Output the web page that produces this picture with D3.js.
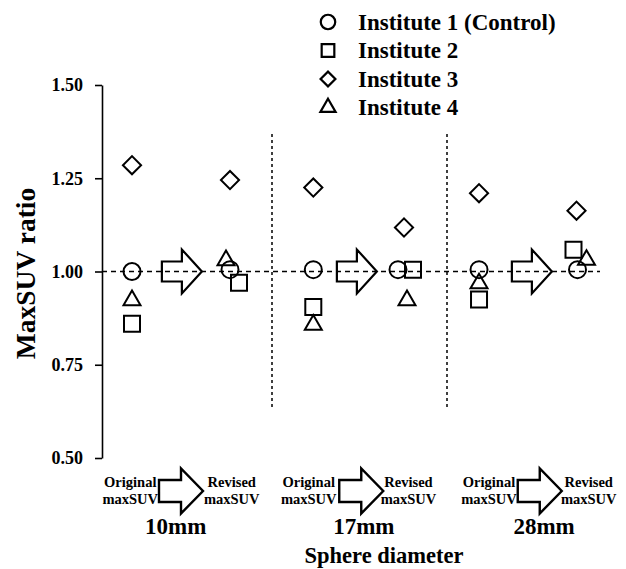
<!DOCTYPE html>
<html>
<head>
<meta charset="utf-8">
<script src="https://cdn.jsdelivr.net/npm/d3@7"></script>
<style>
  html, body { margin: 0; padding: 0; background: #fff; }
  svg { display: block; }
  text { font-family: "Liberation Serif", "Times New Roman", serif; font-weight: bold; fill: #000; }
</style>
</head>
<body>
<svg id="chart" width="626" height="569"></svg>
<script>
// Sphere sizes measured, and the institutes compared
const diameters = ["10mm", "17mm", "28mm"];
const institutes = ["Institute 1 (Control)", "Institute 2", "Institute 3", "Institute 4"];
const yTicks = [0.50, 0.75, 1.00, 1.25, 1.50];

// MaxSUV ratio per sphere diameter (10, 17, 28 mm) — original calculation
const originalInst1 = [1.000, 1.005, 1.005];
const originalInst2 = [0.860, 0.905, 0.925];
const originalInst3 = [1.285, 1.225, 1.210];
const originalInst4 = [0.923, 0.857, 0.968];

// MaxSUV ratio per sphere diameter — revised calculation
const revisedInst1 = [1.005, 1.005, 1.005];
const revisedInst2 = [0.970, 1.005, 1.058];
const revisedInst3 = [1.245, 1.118, 1.163];
const revisedInst4 = [1.030, 0.923, 1.031];

const originalSeries = [originalInst1, originalInst2, originalInst3, originalInst4];
const revisedSeries = [revisedInst1, revisedInst2, revisedInst3, revisedInst4];

// ---- layout ----
const svg = d3.select("#chart");
const x = d3.scaleLinear().domain([0, 3]).range([97, 622]);
const y = d3.scaleLinear().domain([0.5, 1.5]).range([458, 85]);
const axisX = 102;

// position of the original / revised columns inside each diameter group
const colPos = [[0.20, 0.76], [0.236, 0.76], [0.183, 0.74]];
// small sideways offsets so overlapping symbols stay visible (px)
const reviseNudge = [
  [0, 9, 0, -4],
  [-7, 8, -1, 2],
  [1, -3, 0, 10]
];
const symbolTypes = [d3.symbolCircle, d3.symbolSquare, d3.symbolSquare, d3.symbolTriangle];
const symbolRot = [0, 0, 45, 0];
const symbolSize = [227, 256, 165, 125];
const legendSize = [165, 160, 110, 100];

// group separators (dotted verticals)
svg.append("g").selectAll("line").data([1, 2]).join("line")
  .attr("x1", d => x(d)).attr("x2", d => x(d))
  .attr("y1", 134).attr("y2", 408)
  .attr("stroke", "#000").attr("stroke-width", 1.5)
  .attr("stroke-dasharray", "3,3");

// reference line at ratio 1.00
svg.append("line")
  .attr("x1", axisX).attr("x2", 600)
  .attr("y1", y(1)).attr("y2", y(1))
  .attr("stroke", "#000").attr("stroke-width", 1.6)
  .attr("stroke-dasharray", "5,4");

// y axis
const yAxis = d3.axisLeft(y).tickValues(yTicks).tickFormat(d3.format(".2f"))
  .tickSize(7).tickSizeOuter(0).tickPadding(12);
const gy = svg.append("g").attr("transform", `translate(${axisX},0)`).call(yAxis);
gy.select(".domain").attr("stroke", "#000").attr("stroke-width", 1.6);
gy.selectAll(".tick line").attr("stroke", "#000").attr("stroke-width", 1.6);
gy.selectAll(".tick text")
  .attr("font-family", "Liberation Serif, Times New Roman, serif")
  .attr("font-weight", "bold").attr("font-size", 18).attr("fill", "#000");

svg.append("text")
  .attr("transform", `translate(35,${(y(0.5) + y(1.5)) / 2 + 2}) rotate(-90)`)
  .attr("text-anchor", "middle")
  .attr("font-size", 27.5)
  .text("MaxSUV ratio");

// hollow block arrow, centred at (cx, cy)
function arrowPath(cx, cy, len, shaftH, headH, shaftLen) {
  const x0 = cx - len / 2, xh = x0 + shaftLen, x1 = cx + len / 2;
  const pts = [
    [x0, cy - shaftH / 2], [xh, cy - shaftH / 2], [xh, cy - headH / 2],
    [x1, cy], [xh, cy + headH / 2], [xh, cy + shaftH / 2], [x0, cy + shaftH / 2]
  ];
  return d3.line()(pts) + "Z";
}

// arrows between original and revised columns
svg.append("g").selectAll("path").data(diameters).join("path")
  .attr("d", (d, i) => arrowPath(x(i + 0.485), y(1), 40, 20, 44, 20))
  .attr("fill", "none").attr("stroke", "#000").attr("stroke-width", 2.2)
  .attr("stroke-linejoin", "miter");

// data symbols
function drawSeries(series, col, nudges) {
  series.forEach((vals, s) => {
    const sym = d3.symbol().type(symbolTypes[s]).size(symbolSize[s]);
    svg.append("g").selectAll("path").data(vals).join("path")
      .attr("transform", (v, g) => {
        const px = x(g + colPos[g][col]) + (nudges ? nudges[g][s] : 0);
        return `translate(${px},${y(v)}) rotate(${symbolRot[s]})`;
      })
      .attr("d", sym)
      .attr("fill", "none").attr("stroke", "#000").attr("stroke-width", 2);
  });
}
drawSeries(originalSeries, 0, null);
drawSeries(revisedSeries, 1, reviseNudge);

// legend
const legend = svg.append("g");
institutes.forEach((name, s) => {
  const ly = 22 + s * 28.5;
  legend.append("path")
    .attr("transform", `translate(328,${ly}) rotate(${symbolRot[s]})`)
    .attr("d", d3.symbol().type(symbolTypes[s]).size(legendSize[s]))
    .attr("fill", "none").attr("stroke", "#000").attr("stroke-width", 2.2);
  legend.append("text")
    .attr("x", 358).attr("y", ly + 7.5)
    .attr("font-size", 23)
    .text(name);
});

// category labels under the plot
const labelPos = [[0.19, 0.77, 0.48, 0.45], [0.21, 0.78, 0.51, 0.525], [0.24, 0.81, 0.53, 0.555]];
const bottom = svg.append("g");
diameters.forEach((d, g) => {
  const [oF, rF, aF, lF] = labelPos[g];
  [["Original", "maxSUV", oF], ["Revised", "maxSUV", rF]].forEach(([a, b, f]) => {
    const t = bottom.append("text")
      .attr("x", x(g + f)).attr("text-anchor", "middle").attr("font-size", 14.5);
    t.append("tspan").attr("x", x(g + f)).attr("y", 487).text(a);
    t.append("tspan").attr("x", x(g + f)).attr("y", 504).text(b);
  });
  bottom.append("path")
    .attr("d", arrowPath(x(g + aF), 491, 44, 22, 45, 22))
    .attr("fill", "none").attr("stroke", "#000").attr("stroke-width", 2.4);
  bottom.append("text")
    .attr("x", x(g + lF)).attr("y", 534)
    .attr("text-anchor", "middle").attr("font-size", 23)
    .text(d);
});

svg.append("text")
  .attr("x", 384).attr("y", 563)
  .attr("text-anchor", "middle").attr("font-size", 22.5)
  .text("Sphere diameter");
</script>
</body>
</html>
